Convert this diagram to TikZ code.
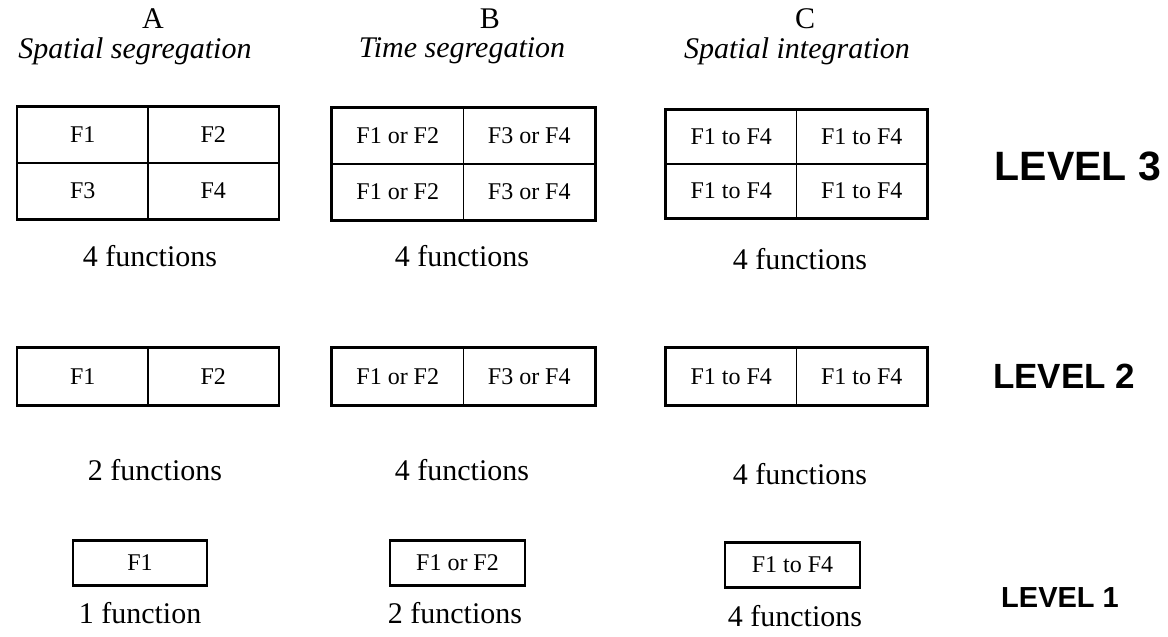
\documentclass[tikz,border=0pt]{standalone}
\usepackage{fontspec}
\setmainfont{Liberation Serif}
\newfontfamily\levfont{Liberation Sans}
\begin{document}
\begin{tikzpicture}[x=1pt,y=-1pt,
  cell/.style={draw, line width=1.1pt, inner sep=0pt, minimum width=130.5pt, font=\fontsize{24}{28}\selectfont},
  frame/.style={line width=2.2pt},
  lab/.style={inner sep=0pt, font=\fontsize{30}{34}\selectfont},
  head/.style={inner sep=0pt, font=\fontsize{30}{34}\selectfont\itshape},
  lev/.style={inner sep=0pt, font=\levfont\bfseries}]
\useasboundingbox (0,0) rectangle (1168,637);
% headers
\node[lab] (hA) at (153,19) {A};
\node[head] (tA) at (135,51) {Spatial segregation};
\node[lab] (hB) at (490,19) {B};
\node[head] (tB) at (462,51) {Time segregation};
\node[lab] (hC) at (805,19) {C};
\node[head] (tC) at (797,51) {Spatial integration};
% LEVEL 3
\node[cell, minimum height=56pt] (a11) at (82.75,135) {F1};
\node[cell, minimum height=56pt] (a12) at (213.25,135) {F2};
\node[cell, minimum height=56pt] (a21) at (82.75,191) {F3};
\node[cell, minimum height=56pt] (a22) at (213.25,191) {F4};
\draw[frame] (a11.north west) rectangle (a22.south east);
\node[cell, minimum height=56pt, minimum width=131.5pt] (b11) at (397.75,136) {F1 or F2};
\node[cell, minimum height=56pt, minimum width=131.5pt] (b12) at (529.25,136) {F3 or F4};
\node[cell, minimum height=56pt, minimum width=131.5pt] (b21) at (397.75,192) {F1 or F2};
\node[cell, minimum height=56pt, minimum width=131.5pt] (b22) at (529.25,192) {F3 or F4};
\draw[frame] (b11.north west) rectangle (b22.south east);
\node[cell, minimum height=54pt] (c11) at (731.25,137) {F1 to F4};
\node[cell, minimum height=54pt] (c12) at (861.75,137) {F1 to F4};
\node[cell, minimum height=54pt] (c21) at (731.25,191) {F1 to F4};
\node[cell, minimum height=54pt] (c22) at (861.75,191) {F1 to F4};
\draw[frame] (c11.north west) rectangle (c22.south east);
\node[lab] (fA3) at (150,256) {4 functions};
\node[lab] (fB3) at (462,256) {4 functions};
\node[lab] (fC3) at (800,259) {4 functions};
\node[lev, font=\levfont\bfseries\fontsize{41}{45}\selectfont] (L3) at (1078,166) {LEVEL 3};
% LEVEL 2
\node[cell, minimum height=57pt] (a2l) at (82.75,376.5) {F1};
\node[cell, minimum height=57pt] (a2r) at (213.25,376.5) {F2};
\draw[frame] (a2l.north west) rectangle (a2r.south east);
\node[cell, minimum height=57pt, minimum width=131.5pt] (b2l) at (397.75,376.5) {F1 or F2};
\node[cell, minimum height=57pt, minimum width=131.5pt] (b2r) at (529.25,376.5) {F3 or F4};
\draw[frame] (b2l.north west) rectangle (b2r.south east);
\node[cell, minimum height=57pt] (c2l) at (731.25,376.5) {F1 to F4};
\node[cell, minimum height=57pt] (c2r) at (861.75,376.5) {F1 to F4};
\draw[frame] (c2l.north west) rectangle (c2r.south east);
\node[lab] (fA2) at (155,470) {2 functions};
\node[lab] (fB2) at (462,470) {4 functions};
\node[lab] (fC2) at (800,474) {4 functions};
\node[lev, font=\levfont\bfseries\fontsize{35}{40}\selectfont] (L2) at (1064,376) {LEVEL 2};
% LEVEL 1
\node[cell, frame, minimum height=45pt, minimum width=134pt] (a1) at (140,563) {F1};
\node[cell, frame, minimum height=45pt, minimum width=135pt] (b1) at (457.5,563) {F1 or F2};
\node[cell, frame, minimum height=45pt, minimum width=135pt] (c1) at (792.5,565) {F1 to F4};
\node[lab] (fA1) at (140,613) {1 function};
\node[lab] (fB1) at (455,613) {2 functions};
\node[lab] (fC1) at (795,616) {4 functions};
\node[lev, font=\levfont\bfseries\fontsize{29}{33}\selectfont] (L1) at (1060,598) {LEVEL 1};
\end{tikzpicture}
\end{document}
